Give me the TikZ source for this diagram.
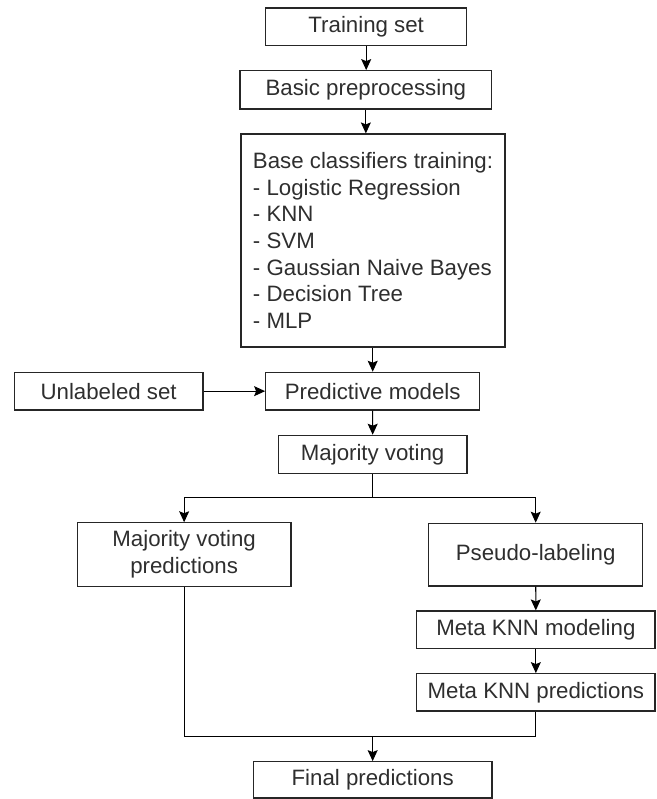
\documentclass[tikz,border=0pt]{standalone}
\usepackage{fontspec}
\setmainfont{Liberation Sans}
\usetikzlibrary{arrows.meta}

\begin{document}
\begin{tikzpicture}[x=0.03cm,y=-0.03cm,
    box/.style={draw=black!85,line width=1pt,text=black!82,inner sep=0pt,
      font=\fontsize{19pt}{22.7pt}\selectfont,minimum height=1.13cm},
    link/.style={line width=0.9pt},
    arr/.style={link,-{Stealth[length=0.33cm,width=0.3cm,inset=0.06cm]}}]
    \useasboundingbox (0,0) rectangle (657,799);

    % Training column
    \node[box,minimum width=6.03cm] (train) at (366.2,26.85) {Training set};
    \node[box,minimum width=7.55cm,minimum height=1.15cm] (prep) at (365.85,89.85) {Basic preprocessing};
    \node[box,minimum width=7.92cm,minimum height=6.39cm,align=left] (base) at (373,240.5)
      {Base classifiers training:\\- Logistic Regression\\- KNN\\- SVM\\- Gaussian Naive Bayes\\- Decision Tree\\- MLP};

    % Prediction
    \node[box,minimum width=5.66cm] (unl) at (108.65,391.15) {Unlabeled set};
    \node[box,minimum width=6.42cm] (pred) at (372.7,391.15) {Predictive models};
    \node[box,minimum width=5.66cm,minimum height=1.14cm] (vote) at (372.65,454.3) {Majority voting};

    % Two branches
    \node[box,minimum width=6.41cm,minimum height=1.9cm,align=center] (mvp) at (184.15,554.5)
      {Majority voting\\predictions};
    \node[box,minimum width=6.42cm,minimum height=1.88cm] (pseudo) at (535.7,554.6) {Pseudo-labeling};
    \node[box,minimum width=7.15cm,minimum height=1.12cm] (metafit) at (535.85,629.65) {Meta KNN modeling};
    \node[box,minimum width=7.15cm,minimum height=1.12cm] (metapred) at (535.85,692.35) {Meta KNN predictions};
    \node[box,minimum width=7.16cm,minimum height=1.09cm] (final) at (372.65,779.85) {Final predictions};

    \coordinate (split) at (372.65,497.7);
    \coordinate (join) at (372.65,736.5);

    % Connectors
    \draw[arr] (train) -- (train |- prep.north);
    \draw[arr] (prep) -- (prep |- base.north);
    \draw[arr] (pred |- base.south) -- (pred);
    \draw[arr] (unl) -- (pred);
    \draw[arr] (pred) -- (vote);
    \draw[link] (vote) -- (split);
    \draw[arr] (split) -| (mvp);
    \draw[arr] (split) -| (pseudo);
    \draw[arr] (pseudo) -- (metafit);
    \draw[arr] (metafit) -- (metapred);
    \draw[link] (mvp) |- (join);
    \draw[link] (metapred) |- (join);
    \draw[arr] (join) -- (final);
\end{tikzpicture}
\end{document}
